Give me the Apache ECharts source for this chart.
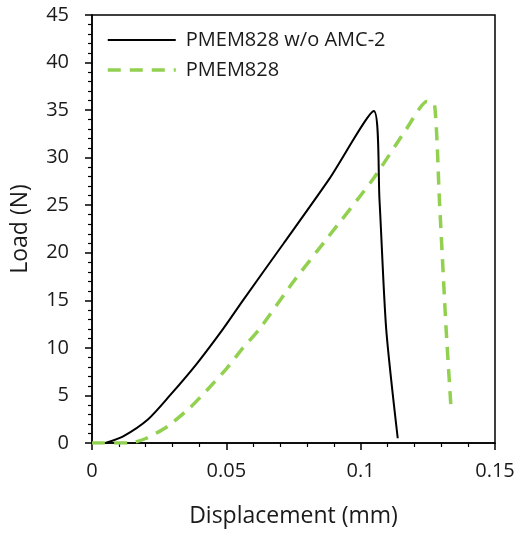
<!DOCTYPE html>
<html>
<head>
<meta charset="utf-8">
<script src="https://cdn.jsdelivr.net/npm/echarts@6/dist/echarts.min.js"></script>
<style>
  html, body { margin: 0; padding: 0; background: #fff; }
  #chart { width: 519px; height: 533px; }
</style>
</head>
<body>
<div id="chart"></div>
<script>
// Load–displacement curves (displacement in mm, load in N)
const seriesNames = ['PMEM828 w/o AMC-2', 'PMEM828'];

const withoutAmcDisp = [0.005, 0.0116, 0.0209, 0.029, 0.0389, 0.0488, 0.0562, 0.0711, 0.0884, 0.1049, 0.107, 0.1095, 0.1138];
const withoutAmcLoad = [0, 0.7, 2.5, 5.0, 8.3, 12.0, 15.0, 20.9, 27.8, 34.9, 25.6, 12.0, 0.5];

const pmemDisp = [0, 0.014, 0.0203, 0.0284, 0.0364, 0.0426, 0.050, 0.0562, 0.0624, 0.0748, 0.0872, 0.1045, 0.117, 0.1246, 0.1275, 0.1293, 0.1318, 0.1337];
const pmemLoad = [0, 0, 0.5, 1.8, 3.7, 5.5, 7.8, 10.0, 12.0, 16.9, 21.4, 27.7, 33.0, 35.9, 35.6, 25.6, 12.0, 3.4];

const xTicks = { min: 0, max: 0.15, interval: 0.05 };
const yTicks = { min: 0, max: 45, interval: 5 };

const pairs = (xs, ys) => xs.map((x, i) => [x, ys[i]]);
const FONT = '"Open Sans"';
const TEXT = '#1a1a1a';
const BLACK_LINE = { color: '#000', width: 2 };
const GREEN_LINE = { color: '#92D050', width: 3.5, type: [13, 9] };

const chart = echarts.init(document.getElementById('chart'), null, { renderer: 'canvas' });

const axisCommon = {
  axisLine: { show: true, onZero: false, lineStyle: { color: '#000', width: 1.5 } },
  axisTick: { show: true, inside: false, length: 7, lineStyle: { color: '#000', width: 1.5 } },
  minorTick: { show: true, splitNumber: 5, length: 4, lineStyle: { color: '#000', width: 1.2 } },
  splitLine: { show: false },
  axisLabel: { color: TEXT, fontFamily: FONT, fontSize: 20 },
  nameTextStyle: { color: TEXT, fontFamily: FONT, fontSize: 23 }
};

chart.setOption({
  animation: false,
  backgroundColor: '#fff',
  grid: {
    left: 92, right: 24, top: 15, bottom: 89,
    show: true, borderColor: '#000', borderWidth: 1.5, backgroundColor: 'transparent'
  },
  legend: {
    left: 101, top: 25, orient: 'vertical',
    itemWidth: 68, itemHeight: 14, itemGap: 10,
    itemStyle: { opacity: 0 },
    textStyle: { color: TEXT, fontFamily: FONT, fontSize: 20, padding: [0, 0, 0, 5] },
    data: [
      { name: seriesNames[0], lineStyle: BLACK_LINE },
      { name: seriesNames[1], lineStyle: GREEN_LINE }
    ]
  },
  xAxis: Object.assign({}, axisCommon, {
    type: 'value',
    min: xTicks.min, max: xTicks.max, interval: xTicks.interval,
    name: 'Displacement (mm)', nameLocation: 'middle', nameGap: 62,
    axisLabel: Object.assign({}, axisCommon.axisLabel, { margin: 18 })
  }),
  yAxis: Object.assign({}, axisCommon, {
    type: 'value',
    min: yTicks.min, max: yTicks.max, interval: yTicks.interval,
    name: 'Load (N)', nameLocation: 'middle', nameGap: 60, nameRotate: 90,
    axisLabel: Object.assign({}, axisCommon.axisLabel, { margin: 23 })
  }),
  series: [
    {
      name: seriesNames[0], type: 'line', symbol: 'none', smooth: 0.25,
      data: pairs(withoutAmcDisp, withoutAmcLoad),
      lineStyle: BLACK_LINE,
      itemStyle: { color: '#000' }, z: 3
    },
    {
      name: seriesNames[1], type: 'line', symbol: 'none', smooth: 0.2,
      data: pairs(pmemDisp, pmemLoad),
      lineStyle: GREEN_LINE,
      itemStyle: { color: '#92D050' }, z: 2
    }
  ]
});
</script>
</body>
</html>
